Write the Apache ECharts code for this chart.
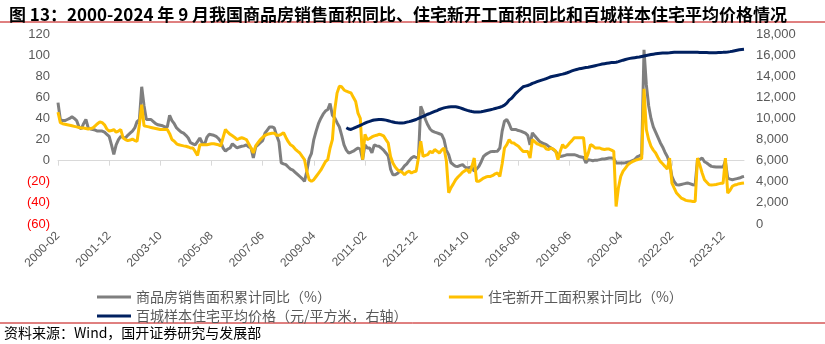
<!DOCTYPE html>
<html><head><meta charset="utf-8">
<script src="https://cdn.jsdelivr.net/npm/echarts@6/dist/echarts.min.js"></script>
<style>html,body{margin:0;padding:0;background:#fff}#c{width:825px;height:344px}</style>
</head><body><div id="c"></div>
<script>
// ---- categories: monthly, 2000-02 .. 2024-09 ----
var firstYear = 2000, firstMonth = 2, lastYear = 2024, lastMonth = 9;
var months = [];
for (var y = firstYear; y <= lastYear; y++) {
  for (var m = (y === firstYear ? firstMonth : 1); m <= (y === lastYear ? lastMonth : 12); m++) {
    months.push(y + '-' + (m < 10 ? '0' + m : m));
  }
}
// ---- 商品房销售面积累计同比 (%) ----
var g2000 = [55, 39, 38, 38, 39, 40, 41.5, 40, 38, 32, 30];
var g2001 = [35, 39, 31, 30, 29.5, 29, 28, 28, 28, 27, 25, 23];
var g2002 = [15, 6, 15, 20, 23, 22, 21.5, 24, 26, 28, 31, 37];
var g2003 = [39, 70, 52, 39, 39, 39, 37, 35, 34, 33.5, 33, 32];
var g2004 = [32, 43, 38, 35, 31, 29, 27, 26, 24, 21.5, 17, 16];
var g2005 = [15, 18, 21.5, 17, 15, 22, 25, 24.5, 24, 23, 21, 18];
var g2006 = [12, 9, 11, 12, 16, 14, 12, 13, 13.6, 14, 15, 13];
var g2007 = [12, 2.5, 13, 15, 17, 19, 26, 29, 32, 32, 31, 24];
var g2008 = [18, -2, -3, -3.8, -6, -8, -9, -11, -13, -15, -17, -19.6];
var g2009 = [-10, 2, 7, 20, 28, 35, 40, 44, 47, 48.4, 54, 43];
var g2010 = [40.5, 36, 32, 24, 15, 10, 7.3, 8, 9, 10.5, 12, 11];
var g2011 = [1, 15, 12, 12, 7.3, 15, 14, 13.6, 12, 10, 7.3, 4.4];
var g2012 = [-8, -13.3, -13.3, -12, -10, -8, -5, -3, 0, 2.5, 4, 3];
var g2013 = [3, 51.6, 46, 39, 34, 30, 27.9, 27, 26.3, 25.5, 24.7, 20];
var g2014 = [10, 5.7, -2, -3.8, -5.4, -5.5, -4.5, -3.8, -6, -7, -6.5, -6];
var g2015 = [-10, -8, -5.4, -1, 4, 6, 7.3, 8.5, 8.8, 8.8, 9, 12];
var g2016 = [28, 37.4, 39, 35, 29.5, 29.5, 29.5, 28.5, 28, 27, 26, 24];
var g2017 = [15, 26.3, 23.5, 21, 18.4, 17, 16, 15.2, 13.5, 12, 10.5, 8.8];
var g2018 = [5.7, 4, 4.5, 5, 5.7, 5.7, 5.7, 5.7, 5, 4, 3.5, 3];
var g2019 = [-2.2, 0.9, 0.5, 0, 0.5, 0.5, 1, 1.5, 1.5, 2, 2.5, 2.5];
var g2020 = [2, -2.2, -2.2, -2.2, -2.2, -2, -1.5, -1, 0, 1, 3.5, 4.5];
var g2021 = [5.7, 105, 72, 52, 40, 32, 27, 22, 17, 13, 8, 4];
var g2022 = [-2.2, -14.9, -20, -22.8, -23, -22.5, -22, -21.5, -21.2, -22, -22.8, -23];
var g2023 = [1, 1, 2.5, -1, -2.2, -4, -5.4, -5.7, -6, -6, -6, -6];
var g2024 = [-0.7, -16.5, -17.5, -18, -17.5, -17, -16.5, -15.5, -14.9];
// ---- 住宅新开工面积累计同比 (%) ----
var y2000 = [46, 36, 35, 34.5, 34, 33.5, 33, 32.5, 32, 31.5, 31];
var y2001 = [31, 30.5, 30, 30.5, 31, 33, 35, 36.7, 36, 34, 30, 28];
var y2002 = [28.5, 29.5, 27, 28, 29.5, 21.5, 20, 19, 19.5, 20.5, 19, 18.4];
var y2003 = [34, 53, 33, 32.5, 32, 31.5, 31, 30.5, 30, 29.5, 29.5, 29.5];
var y2004 = [29.5, 25.6, 20, 18.4, 16, 15, 14.5, 14, 13.6, 13, 12, 12];
var y2005 = [8.8, 5, 15, 15, 15, 15, 15.5, 16, 16, 15.5, 15, 14];
var y2006 = [22, 29.5, 27, 25, 23.5, 22, 20, 21, 21.7, 21, 20, 16];
var y2007 = [12, 7.3, 14, 17, 20, 22, 24, 25, 25.5, 26, 26, 24];
var y2008 = [24, 25, 26.6, 22, 18, 15, 13.6, 11, 9, 7.3, 4, 1];
var y2009 = [-10, -18, -19.6, -18, -15, -12, -9, -5, -1, 1, 12, 20];
var y2010 = [48, 64, 70.5, 70, 67, 65.8, 65, 64.2, 60, 56, 45, 40];
var y2011 = [1, 25, 20, 21, 22.5, 23.5, 24, 25, 24.5, 23.5, 20, 16.7];
var y2012 = [4, -2.2, -6, -8.5, -10, -11, -13.3, -11, -10, -11.7, -10.5, -10];
var y2013 = [2.5, 18.4, 4, 5, 5.7, 8.8, 7.5, 10.5, 9, 7.3, 10, 12];
var y2014 = [0, -30.4, -25.6, -22, -18, -15.5, -13.3, -11, -9.5, -8.5, -11.7, -5.4];
var y2015 = [2.5, -19.6, -19.6, -18, -16.5, -15.5, -14.9, -14.9, -14, -12.5, -11.7, -14.9];
var y2016 = [-3, 12, 15.2, 20, 17, 16.7, 15, 13.6, 11, 8.8, 8.8, 8.8];
var y2017 = [2.5, 20, 18, 16, 15.2, 14, 13.6, 11, 10.5, 12, 11, 9];
var y2018 = [0.9, 9, 15.2, 12, 14, 16.7, 19, 21.7, 21.7, 21.7, 21.7, 21.7];
var y2019 = [0.9, 7, 15.2, 14, 12, 12, 12, 11, 10.5, 11, 11, 10];
var y2020 = [8.8, -43.4, -25.6, -14.9, -10, -7, -4, -2.2, -1, 0, 0.9, 1.5];
var y2021 = [2, 68, 29.5, 20, 13.6, 10, 7.3, 3, -0.7, -3, -5.4, -8];
var y2022 = [2.5, -21.2, -26, -30.7, -33, -35.4, -36.5, -37.6, -38, -38.3, -38.6, -38.6];
var y2023 = [2.5, -4, -11.7, -18, -20.5, -22.8, -23, -22.8, -22.5, -22, -21.5, -21.5];
var y2024 = [2.5, -30.7, -28, -24.3, -23, -22.5, -21.8, -21.5, -21.2];
// ---- 百城样本住宅平均价格 (元/平方米), from 2010-06 ----
var priceStart = '2010-06';
var p2010 = [9120, 9000, 8960, 9050, 9150, 9250, 9350];
var p2011 = [9450, 9550, 9650, 9720, 9800, 9850, 9880, 9900, 9910, 9880, 9840, 9780];
var p2012 = [9720, 9670, 9620, 9590, 9570, 9570, 9600, 9650, 9700, 9760, 9830, 9900];
var p2013 = [10000, 10100, 10200, 10300, 10400, 10480, 10570, 10660, 10750, 10850, 10930, 11000];
var p2014 = [11050, 11090, 11100, 11110, 11100, 11060, 11000, 10920, 10840, 10760, 10700, 10650];
var p2015 = [10620, 10610, 10620, 10640, 10680, 10730, 10780, 10830, 10880, 10940, 11000, 11060];
var p2016 = [11150, 11260, 11450, 11730, 11900, 12150, 12400, 12600, 12800, 13000, 13060, 13120];
var p2017 = [13200, 13320, 13400, 13480, 13560, 13630, 13700, 13780, 13860, 13950, 14000, 14050];
var p2018 = [14100, 14150, 14200, 14260, 14330, 14420, 14500, 14580, 14640, 14700, 14740, 14780];
var p2019 = [14820, 14850, 14900, 14950, 15000, 15050, 15100, 15150, 15190, 15230, 15260, 15290];
var p2020 = [15300, 15320, 15380, 15450, 15520, 15580, 15640, 15690, 15730, 15760, 15790, 15820];
var p2021 = [15870, 15920, 15970, 16010, 16050, 16090, 16120, 16150, 16170, 16190, 16200, 16210];
var p2022 = [16220, 16240, 16260, 16270, 16280, 16280, 16280, 16280, 16270, 16270, 16260, 16260];
var p2023 = [16260, 16250, 16250, 16240, 16240, 16230, 16230, 16230, 16230, 16240, 16250, 16260];
var p2024 = [16280, 16300, 16330, 16370, 16420, 16460, 16500, 16530, 16550];

var leftTicks = [-60, -40, -20, 0, 20, 40, 60, 80, 100, 120];
var rightTicks = [0, 2000, 4000, 6000, 8000, 10000, 12000, 14000, 16000, 18000];

var salesYoY = [].concat(g2000,g2001,g2002,g2003,g2004,g2005,g2006,g2007,g2008,g2009,g2010,g2011,g2012,g2013,g2014,g2015,g2016,g2017,g2018,g2019,g2020,g2021,g2022,g2023,g2024);
var startsYoY = [].concat(y2000,y2001,y2002,y2003,y2004,y2005,y2006,y2007,y2008,y2009,y2010,y2011,y2012,y2013,y2014,y2015,y2016,y2017,y2018,y2019,y2020,y2021,y2022,y2023,y2024);
var priceVals = [].concat(p2010,p2011,p2012,p2013,p2014,p2015,p2016,p2017,p2018,p2019,p2020,p2021,p2022,p2023,p2024);
var priceData = months.slice(0, months.indexOf(priceStart)).map(function(){return null;}).concat(priceVals);

var F = '"Liberation Sans", Arial, "Noto Sans CJK SC", sans-serif';
var FC = '"Noto Sans CJK SC", "Liberation Sans", sans-serif';
var chart = echarts.init(document.getElementById('c'), null, {renderer: 'canvas'});
chart.setOption({
  animation: false,
  backgroundColor: '#fff',
  title: {
    text: '图 13：2000-2024 年 9 月我国商品房销售面积同比、住宅新开工面积同比和百城样本住宅平均价格情况',
    left: 4, top: 1,
    textStyle: {fontSize: 17, fontWeight: 'bold', color: '#000', fontFamily: FC}
  },
  graphic: [
    {type: 'line', shape: {x1: 0, y1: 22, x2: 825, y2: 22}, style: {stroke: '#C00000', lineWidth: 1}},
    {type: 'line', shape: {x1: 0, y1: 323, x2: 825, y2: 323}, style: {stroke: '#C00000', lineWidth: 1}},
    {type: 'text', left: 4, top: 326, style: {text: '资料来源：Wind，国开证券研究与发展部', fill: '#000', font: '14px ' + FC}}
  ],
  legend: [
    {data: ['商品房销售面积累计同比（%）', '住宅新开工面积累计同比（%）'], left: 92, top: 285,
     icon: 'rect', itemWidth: 34, itemHeight: 3, itemGap: 118,
     textStyle: {fontSize: 14, color: '#595959', fontFamily: FC}},
    {data: ['百城样本住宅平均价格（元/平方米，右轴）'], left: 92, top: 304,
     icon: 'rect', itemWidth: 34, itemHeight: 3,
     textStyle: {fontSize: 14, color: '#595959', fontFamily: FC}}
  ],
  grid: {left: 58, right: 81, top: 34, bottom: 120, containLabel: false},
  xAxis: [
    {type: 'category', data: months, boundaryGap: false,
     axisLine: {onZero: true, onZeroAxisIndex: 0, lineStyle: {color: '#d9d9d9', width: 1}},
     axisTick: {show: true, interval: 21, length: 5, lineStyle: {color: '#d9d9d9'}},
     axisLabel: {show: false}, splitLine: {show: false}},
    {type: 'category', data: months, boundaryGap: false, position: 'bottom',
     axisLine: {show: false, onZero: false}, axisTick: {show: false},
     axisLabel: {show: true, interval: 21, rotate: 45, margin: 10, fontSize: 12, color: '#595959', fontFamily: F},
     splitLine: {show: false}}
  ],
  yAxis: [
    {type: 'value', min: leftTicks[0], max: leftTicks[leftTicks.length - 1], interval: 20,
     axisLine: {show: false}, axisTick: {show: false}, splitLine: {show: false},
     axisLabel: {margin: 8, fontSize: 13, color: '#595959', fontFamily: F,
       formatter: function (v) { return v < 0 ? '{n|(' + (-v) + ')}' : String(v); },
       rich: {n: {color: '#FF0000', fontSize: 13, fontFamily: F}}}},
    {type: 'value', min: rightTicks[0], max: rightTicks[rightTicks.length - 1], interval: 2000, position: 'right',
     axisLine: {show: false}, axisTick: {show: false}, splitLine: {show: false},
     axisLabel: {margin: 12, fontSize: 13, color: '#595959', fontFamily: F,
       formatter: function (v) { return v.toString().replace(/\B(?=(\d{3})+(?!\d))/g, ','); }}}
  ],
  series: [
    {name: '商品房销售面积累计同比（%）', type: 'line', xAxisIndex: 0, yAxisIndex: 0, data: salesYoY,
     showSymbol: false, symbol: 'none', lineStyle: {color: '#7F7F7F', width: 3}, itemStyle: {color: '#7F7F7F'}},
    {name: '住宅新开工面积累计同比（%）', type: 'line', xAxisIndex: 0, yAxisIndex: 0, data: startsYoY,
     showSymbol: false, symbol: 'none', lineStyle: {color: '#FFC000', width: 3}, itemStyle: {color: '#FFC000'}},
    {name: '百城样本住宅平均价格（元/平方米，右轴）', type: 'line', xAxisIndex: 0, yAxisIndex: 1, data: priceData,
     showSymbol: false, symbol: 'none', connectNulls: false, lineStyle: {color: '#002060', width: 3}, itemStyle: {color: '#002060'}}
  ]
});
</script></body></html>
